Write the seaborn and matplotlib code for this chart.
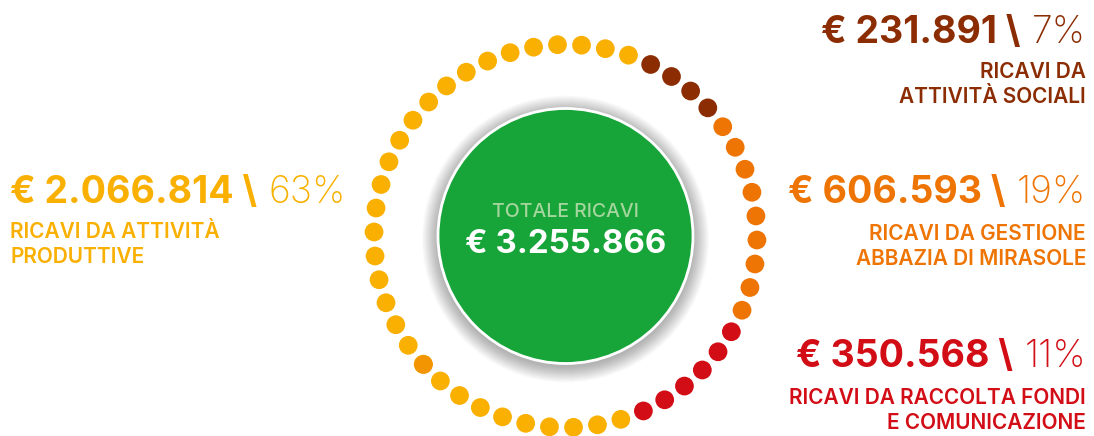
import matplotlib
matplotlib.use("Agg")
import matplotlib.pyplot as plt
from matplotlib.patches import Circle
import numpy as np
import pandas as pd
import seaborn as sns

# Data
categories = ["ATTIVITA_SOCIALI", "GESTIONE_ABBAZIA", "RACCOLTA_FONDI", "ATTIVITA_PRODUTTIVE"]
amounts = [231891, 606593, 350568, 2066814]
percents = [7, 19, 11, 63]
dot_counts = [4, 9, 6, 31]
labels = [
    "RICAVI DA\nATTIVITÀ SOCIALI",
    "RICAVI DA GESTIONE\nABBAZIA DI MIRASOLE",
    "RICAVI DA RACCOLTA FONDI\nE COMUNICAZIONE",
    "RICAVI DA ATTIVITÀ\nPRODUTTIVE",
]
total_title = "TOTALE RICAVI"

COLORS = ["#8B2C02", "#EE7404", "#D20D16", "#F9B000"]
GREEN = "#17A53A"
FONT = "Inter"

W, H = 1094, 436
CX, CY, R_RING, R_CORE = 565.5, 236.0, 191.5, 127.5
BIG = 27
SUB = 15


def euro(v):
    return "€ " + f"{v:,}".replace(",", ".")


def ring_frame():
    n = sum(dot_counts)
    step = 360.0 / n
    cat = np.repeat(categories, dot_counts)
    ang = np.deg2rad(26.4 + step * np.arange(n))
    return pd.DataFrame({
        "x": CX + R_RING * np.sin(ang),
        "y": CY - R_RING * np.cos(ang),
        "cat": cat,
    })


def amount_label(ax, x, y, amount, pct, color, align):
    kw = dict(fontsize=BIG, color=color, family=FONT)
    if align == "right":
        t = ax.text(x, y, f"{pct}%", ha="right", va="baseline", fontweight=200, **kw)
        ax.annotate(euro(amount) + " \\", xy=(0, 0), xycoords=t, xytext=(-8, 0),
                    textcoords="offset points", ha="right", va="bottom",
                    fontweight="bold", **kw)
    else:
        t = ax.text(x, y, euro(amount) + " \\", ha="left", va="baseline", fontweight="bold", **kw)
        ax.annotate(f"{pct}%", xy=(1, 0), xycoords=t, xytext=(8, 0),
                    textcoords="offset points", ha="left", va="bottom",
                    fontweight=200, **kw)


def sub_label(ax, x, y, text, color, align):
    for i, line in enumerate(text.split("\n")):
        ax.text(x, y + 25 * i, line, ha=align, va="baseline", fontsize=SUB,
                color=color, family=FONT, fontweight="semibold")


sns.set_style("white")
fig = plt.figure(figsize=(W / 100, H / 100), dpi=100)
ax = fig.add_axes([0, 0, 1, 1])
ax.set_xlim(0, W)
ax.set_ylim(H, 0)
ax.set_aspect("equal")
ax.axis("off")

# soft shadow under the core circle
for i in range(16):
    ax.add_patch(Circle((CX, CY + 3), R_CORE + 16 - i, color="black", alpha=0.018, lw=0))
ax.add_patch(Circle((CX, CY), R_CORE, facecolor=GREEN, edgecolor="white", lw=2, zorder=3))

dots = ring_frame()
sns.scatterplot(data=dots, x="x", y="y", hue="cat", palette=dict(zip(categories, COLORS)),
                s=182, linewidth=0, legend=False, ax=ax, zorder=4)
# one slightly darker dot in the yellow segment
odd = dots[dots["cat"] == categories[3]].iloc[9]
ax.scatter([odd["x"]], [odd["y"]], s=182, color="#F29500", lw=0, zorder=5)

ax.text(CX, 217, total_title, ha="center", va="baseline", fontsize=14,
        color="#A5D69E", family=FONT, fontweight="medium", zorder=6)
ax.text(CX, 253, euro(sum(amounts)), ha="center", va="baseline", fontsize=23.8,
        color="white", family=FONT, fontweight="bold", zorder=6)

# labels
amount_label(ax, 1086, 43, amounts[0], percents[0], COLORS[0], "right")
sub_label(ax, 1086, 78, labels[0], COLORS[0], "right")
amount_label(ax, 1086, 203, amounts[1], percents[1], COLORS[1], "right")
sub_label(ax, 1086, 240, labels[1], COLORS[1], "right")
amount_label(ax, 1086, 367, amounts[2], percents[2], COLORS[2], "right")
sub_label(ax, 1086, 404, labels[2], COLORS[2], "right")
amount_label(ax, 10, 203, amounts[3], percents[3], COLORS[3], "left")
sub_label(ax, 10, 238, labels[3], COLORS[3], "left")

fig.savefig("out.png", dpi=100)
